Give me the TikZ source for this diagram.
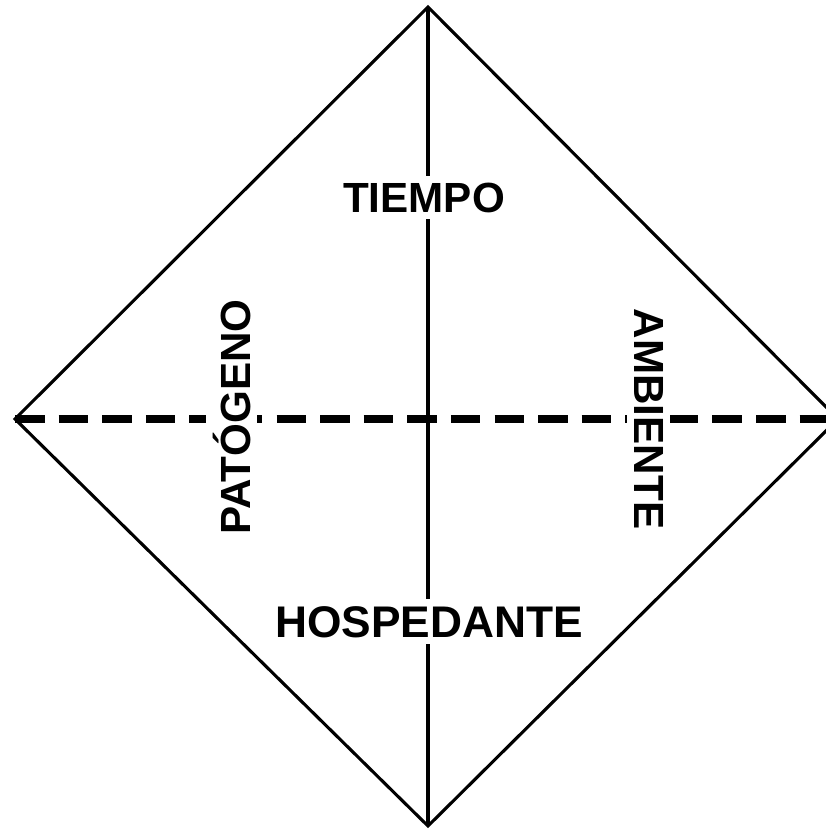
\documentclass[tikz,border=0pt]{standalone}
\usepackage{fontspec}
\setmainfont{Liberation Sans}
\begin{document}
\begin{tikzpicture}[x=0.025cm,y=-0.025cm,
    lbl/.style={font=\fontsize{30}{36}\selectfont\bfseries,fill=white,inner sep=5pt,anchor=base}]
      \useasboundingbox (0,0) rectangle (825,829);

      \coordinate (top) at (428,7);
      \coordinate (bot) at (428,826);
      \coordinate (lft) at (15,419);
      \coordinate (rgt) at (838,419);

      \draw[line width=2.2pt,line join=miter] (top)--(rgt)--(bot)--(lft)--cycle;
      \draw[line width=2.6pt] (top)--(bot);
      \draw[line width=5pt,dash pattern=on 21pt off 10pt] (lft)--(rgt);

      % labels
      \node[lbl] (tiempo) at (424,212) {TIEMPO};
      \node[lbl,font=\fontsize{31.5}{36}\selectfont\bfseries] (hosp) at (429,637) {HOSPEDANTE};
      \node[lbl,rotate=90] (pat) at (250,417) {PATÓGENO};
      \node[lbl,rotate=-90] (amb) at (634,419) {AMBIENTE};

    \end{tikzpicture}
\end{document}
